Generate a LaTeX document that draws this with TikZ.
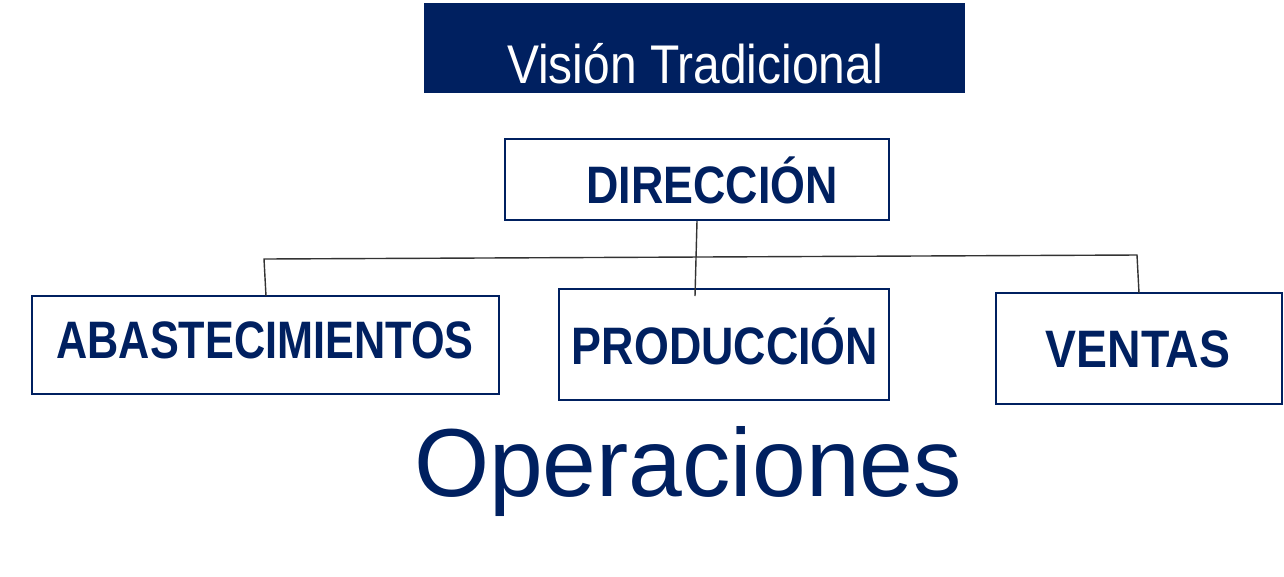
\documentclass[tikz,border=0pt]{standalone}
\usepackage{fontspec}
\setmainfont{Liberation Sans}
\definecolor{navy}{RGB}{0,32,96}
\begin{document}
\begin{tikzpicture}[x=0.02cm,y=-0.02cm,
  box/.style={draw=navy,line width=0.8pt},
  lbl/.style={text=navy,font=\fontsize{30}{30}\selectfont\bfseries,inner sep=0},
  conn/.style={draw=black!80,line width=0.8pt}]
\useasboundingbox (0,0) rectangle (1284,576);
\fill[navy] (424,3) rectangle (965,93);
\node[text=white,inner sep=0,font=\fontsize{31}{31}\selectfont] (title) at (695,64) {\scalebox{0.88}[1]{Visión Tradicional}};
\draw[box] (505,139) rectangle (889,220);
\coordinate (dirb) at (697,221);
\node[lbl] (dir) at (712,180) {\scalebox{0.85}[1]{DIRECCIÓN}};
\draw[box] (32,296) rectangle (499,394);
\node[lbl] (aba) at (265,340) {\scalebox{0.82}[1]{ABASTECIMIENTOS}};
\draw[box] (559,289) rectangle (889,400);
\node[lbl] (pro) at (725,341) {\scalebox{0.85}[1]{PRODUCCIÓN}};
\draw[box] (996,293) rectangle (1282,404);
\node[lbl] (ven) at (1138,349) {\scalebox{0.88}[1]{VENTAS}};
\coordinate (pt) at (695,296);
\coordinate (at) at (266,296);
\coordinate (vt) at (1139,293);
\coordinate (h1) at (264,259);
\coordinate (h2) at (1137,255);
\draw[conn] (dirb) -- (pt);
\draw[conn] (at) -- (h1) -- (h2) -- (vt);
\node[text=navy,inner sep=0,font=\fontsize{55}{55}\selectfont] (op) at (688,472) {Operaciones};
\end{tikzpicture}
\end{document}
